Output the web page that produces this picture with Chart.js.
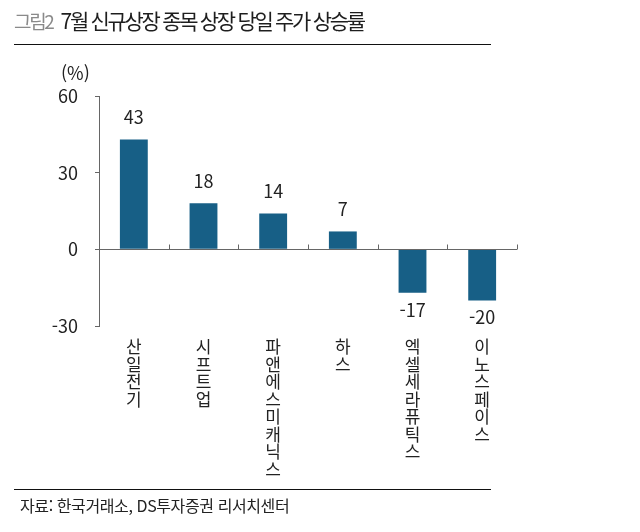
<!DOCTYPE html>
<html lang="ko">
<head>
<meta charset="utf-8">
<script src="https://cdn.jsdelivr.net/npm/chart.js@4"></script>
<style>
    body { margin: 0; background: #fff; font-family: "Noto Sans CJK KR", sans-serif; }
    #wrap { position: relative; width: 640px; height: 532px; }
    #chartBox { position: absolute; left: 0; top: 0; width: 640px; height: 532px; }
    .title { position: absolute; left: 14px; top: 5px; font-size: 21px; color: #1e1e1e; letter-spacing: -2.3px; white-space: nowrap; }
    .title span { color: #8a8a8a; font-size: 19px; margin-right: 8px; }
    .rule { position: absolute; left: 14px; width: 477px; height: 1px; background: #111; }
    .unit { position: absolute; left: 61px; top: 59px; font-size: 18px; color: #222; }
    .source { position: absolute; left: 20px; top: 493px; font-size: 16px; color: #222; letter-spacing: -0.4px; white-space: nowrap; }
</style>
</head>
<body>
<div id="wrap">
    <div id="chartBox"><canvas id="rateChart"></canvas></div>
    <div class="title"><span>그림2</span>7월 신규상장 종목 상장 당일 주가 상승률</div>
    <div class="rule" style="top:44px"></div>
    <div class="unit">(%)</div>
    <div class="rule" style="top:489px"></div>
    <div class="source">자료: 한국거래소, DS투자증권 리서치센터</div>
</div>
<script>
// 종목명과 상장 당일 상승률(%)
const companies = ['산일전기', '시프트업', '파앤에스미캐닉스', '하스', '엑셀세라퓨틱스', '이노스페이스'];
const firstDayReturn = [43, 18, 14, 7, -17, -20];
const yTicks = [-30, 0, 30, 60];

const barColor = '#175f86';
const axisColor = '#666';
const fontFamily = '"Noto Sans CJK KR", sans-serif';

// 0선과 카테고리 경계 눈금
const zeroLinePlugin = {
    id: 'zeroLine',
    afterDatasetsDraw(chart) {
        const { ctx, chartArea, scales } = chart;
        const y0 = Math.round(scales.y.getPixelForValue(0)) + 0.5;
        const step = (chartArea.right - chartArea.left) / companies.length;
        ctx.save();
        ctx.strokeStyle = axisColor;
        ctx.lineWidth = 1;
        ctx.beginPath();
        ctx.moveTo(chartArea.left, y0);
        ctx.lineTo(chartArea.right, y0);
        for (let i = 1; i <= companies.length; i++) {
            const x = Math.round(chartArea.left + step * i) + 0.5;
            ctx.moveTo(x, y0);
            ctx.lineTo(x, y0 - 5);
        }
        ctx.stroke();
        ctx.restore();
    }
};

// 막대 위/아래 값 표시
const valueLabelPlugin = {
    id: 'valueLabels',
    afterDatasetsDraw(chart) {
        const { ctx } = chart;
        const meta = chart.getDatasetMeta(0);
        ctx.save();
        ctx.font = '18px ' + fontFamily;
        ctx.fillStyle = '#222';
        ctx.textAlign = 'center';
        ctx.textBaseline = 'middle';
        meta.data.forEach((bar, i) => {
            const v = firstDayReturn[i];
            const y = v >= 0 ? bar.y - 22 : bar.y + 17;
            ctx.fillText(String(v), bar.x, y);
        });
        ctx.restore();
    }
};

const ctx = document.getElementById('rateChart').getContext('2d');
new Chart(ctx, {
    type: 'bar',
    data: {
        labels: companies.map(name => name.split('')),
        datasets: [{
            data: firstDayReturn,
            backgroundColor: barColor,
            borderWidth: 0,
            categoryPercentage: 1,
            barPercentage: 0.4
        }]
    },
    options: {
        responsive: true,
        maintainAspectRatio: false,
        animation: false,
        layout: { padding: { left: 0, top: 96, right: 123, bottom: 0 } },
        plugins: {
            legend: { display: false },
            tooltip: { enabled: false }
        },
        scales: {
            x: {
                grid: { display: false },
                border: { display: false },
                ticks: {
                    color: '#222',
                    maxRotation: 0,
                    autoSkip: false,
                    padding: 4,
                    font: { family: fontFamily, size: 17, lineHeight: 1.03 }
                },
                afterFit(scale) { scale.height = 206; }
            },
            y: {
                min: -30,
                max: 60,
                afterBuildTicks(scale) { scale.ticks = yTicks.map(v => ({ value: v })); },
                grid: { drawOnChartArea: false, tickLength: 4, color: axisColor },
                border: { color: axisColor },
                ticks: {
                    color: '#222',
                    padding: 17,
                    font: { family: fontFamily, size: 18 }
                },
                afterFit(scale) { scale.width = 99; }
            }
        }
    },
    plugins: [zeroLinePlugin, valueLabelPlugin]
});
</script>
</body>
</html>
